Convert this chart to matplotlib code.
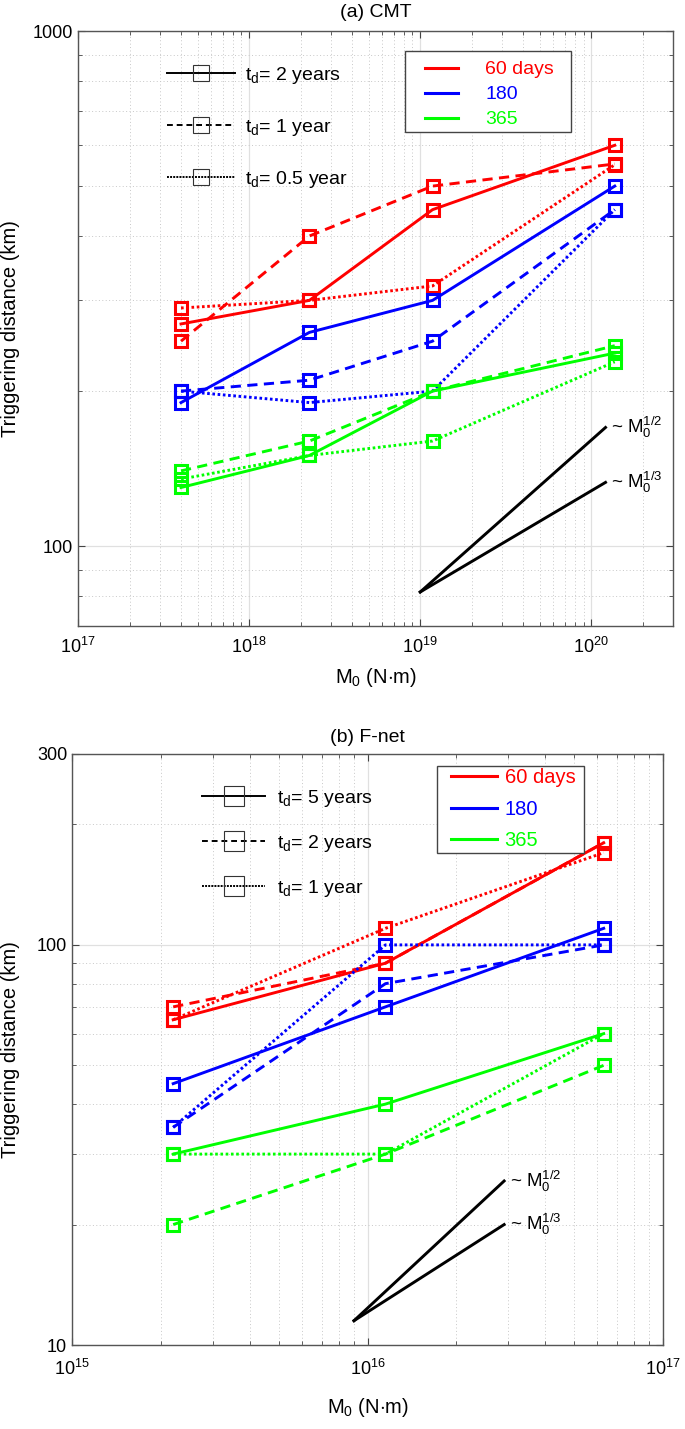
import matplotlib
matplotlib.use("Agg")
import matplotlib.pyplot as plt
from matplotlib.lines import Line2D
from matplotlib.patches import Rectangle
from matplotlib.ticker import FixedLocator, FixedFormatter, NullFormatter, LogLocator

# (a) CMT: seismic moment of each magnitude bin and triggering distance (km)
cmt_m0 = [4.0e17, 2.25e18, 1.18e19, 1.37e20]
cmt_red_2yr = [270, 300, 450, 600]
cmt_red_1yr = [250, 400, 500, 552]
cmt_red_05yr = [290, 300, 320, 550]
cmt_blue_2yr = [190, 260, 300, 500]
cmt_blue_1yr = [200, 210, 250, 450]
cmt_blue_05yr = [200, 190, 200, 450]
cmt_green_2yr = [130, 150, 200, 237]
cmt_green_1yr = [140, 160, 200, 245]
cmt_green_05yr = [135, 150, 160, 228]
cmt_ref_m0 = [1.0e19, 1.21e20]
cmt_ref_half = [81.5, 170]
cmt_ref_third = [81.5, 133]

# (b) F-net
fnet_m0 = [2.2e15, 1.15e16, 6.3e16]
fnet_red_5yr = [65, 90, 180]
fnet_red_2yr = [70, 90, 180]
fnet_red_1yr = [65, 110, 170]
fnet_blue_5yr = [45, 70, 110]
fnet_blue_2yr = [35, 80, 100]
fnet_blue_1yr = [35, 100, 100]
fnet_green_5yr = [30, 40, 60]
fnet_green_2yr = [20, 30, 50]
fnet_green_1yr = [30, 30, 60]
fnet_ref_m0 = [9.0e15, 2.9e16]
fnet_ref_half = [11.5, 25.7]
fnet_ref_third = [11.5, 20]

window_labels = ["60 days", "180", "365"]
colors = ["#ff0000", "#0000ff", "#00ff00"]

plt.rcParams["font.family"] = ["Liberation Sans", "DejaVu Sans"]
plt.rcParams["mathtext.fontset"] = "custom"
plt.rcParams["mathtext.rm"] = "Liberation Sans"
plt.rcParams["mathtext.it"] = "Liberation Sans"
plt.rcParams["mathtext.sf"] = "Liberation Sans"

DASHED = (0, (3.5, 2.2))
DOTTED = (0, (0.9, 0.9))


def style_axes(ax, xlim, ylim, yticks, tick_pad):
    ax.set_xscale("log")
    ax.set_yscale("log")
    ax.set_xlim(*xlim)
    ax.set_ylim(*ylim)
    ax.yaxis.set_major_locator(FixedLocator(yticks))
    ax.yaxis.set_major_formatter(FixedFormatter([str(v) for v in yticks]))
    ax.yaxis.set_minor_locator(LogLocator(base=10, subs=range(2, 10)))
    ax.yaxis.set_minor_formatter(NullFormatter())
    ax.xaxis.set_minor_formatter(NullFormatter())
    ax.grid(True, which="major", color="#e0e0e0", lw=0.9, ls="-")
    ax.grid(True, which="minor", color="#c8c8c8", lw=0.7, ls=(0, (1, 2.5)))
    ax.set_axisbelow(True)
    ax.tick_params(which="both", direction="in", top=True, right=True,
                   colors="#444444", labelcolor="black", labelsize=13)
    ax.tick_params(axis="x", which="major", pad=tick_pad)
    ax.tick_params(which="major", length=5, width=0.8)
    ax.tick_params(which="minor", length=3, width=0.6)
    for sp in ax.spines.values():
        sp.set_color("#555555")
        sp.set_linewidth(1.0)


def plot_series(ax, x, series):
    for ys, color, ls in series:
        ax.plot(x, ys, color=color, ls=ls, lw=2.1, marker="s", ms=9,
                mfc="none", mec=color, mew=2.2)


def add_legends(ax, style_labels, style_anchor, style_len, style_pad, style_spacing,
                msize, box, color_anchor, color_len, color_pad, color_spacing,
                color_size):
    style_handles = [Line2D([], [], color="black", ls=ls, lw=1.4, marker="s",
                            ms=msize, mfc="none", mec="#333333", mew=0.8)
                     for ls in ["-", (0, (3, 2)), (0, (1, 0.6))]]
    leg1 = ax.legend(style_handles, style_labels, loc="upper left",
                     bbox_to_anchor=style_anchor, frameon=False, fontsize=14,
                     handlelength=style_len, handletextpad=style_pad,
                     labelspacing=style_spacing, borderpad=0, borderaxespad=0,
                     numpoints=1)
    ax.add_artist(leg1)
    # frame of the colour legend
    x0, x1, y0, y1 = box
    ax.add_patch(Rectangle((x0, y0), x1 - x0, y1 - y0, transform=ax.transAxes,
                           facecolor="white", edgecolor="#444444", lw=1.0,
                           zorder=4))
    color_handles = [Line2D([], [], color=c, lw=2.2) for c in colors]
    leg2 = ax.legend(color_handles, window_labels, loc="upper left",
                     bbox_to_anchor=color_anchor, fontsize=color_size,
                     handlelength=color_len, handletextpad=color_pad,
                     labelspacing=color_spacing, labelcolor=colors,
                     frameon=False, borderpad=0, borderaxespad=0)
    leg2.set_zorder(5)


def add_ref_lines(ax, xs, half, third):
    ax.plot(xs, half, color="black", lw=2.1)
    ax.plot(xs, third, color="black", lw=2.1)
    ax.annotate(r"~ M$_0^{1/2}$", (xs[1], half[1]), xytext=(4, 0),
                textcoords="offset points", ha="left", va="center", fontsize=13.5)
    ax.annotate(r"~ M$_0^{1/3}$", (xs[1], third[1]), xytext=(4, 0),
                textcoords="offset points", ha="left", va="center", fontsize=13.5)


fig = plt.figure(figsize=(6.85, 14.29), dpi=100)
W, H = 685, 1429
ax_a = fig.add_axes([78 / W, 1 - 626 / H, 595 / W, 595 / H])
ax_b = fig.add_axes([72 / W, 1 - 1345 / H, 591 / W, 591 / H])

# ---- (a) CMT
style_axes(ax_a, (1e17, 3e20), (70, 1000), [100, 1000], 8)
plot_series(ax_a, cmt_m0, [
    (cmt_red_2yr, colors[0], "-"), (cmt_red_1yr, colors[0], DASHED),
    (cmt_red_05yr, colors[0], DOTTED),
    (cmt_blue_2yr, colors[1], "-"), (cmt_blue_1yr, colors[1], DASHED),
    (cmt_blue_05yr, colors[1], DOTTED),
    (cmt_green_2yr, colors[2], "-"), (cmt_green_1yr, colors[2], DASHED),
    (cmt_green_05yr, colors[2], DOTTED),
])
add_ref_lines(ax_a, cmt_ref_m0, cmt_ref_half, cmt_ref_third)
add_legends(ax_a, [r"t$_\mathrm{d}$= 2 years", r"t$_\mathrm{d}$= 1 year",
                   r"t$_\mathrm{d}$= 0.5 year"],
            (0.15, 0.943), 3.5, 0.5, 1.6, 11,
            (0.55, 0.829, 0.830, 0.966),
            (0.583, 0.95), 1.7, 1.4, 0.38, 14)
ax_a.set_title("(a) CMT", fontsize=14, pad=10)
ax_a.set_xlabel(r"M$_0$ (N$\cdot$m)", fontsize=14.5, labelpad=6)
ax_a.set_ylabel("Triggering distance (km)", fontsize=14.5)
ax_a.yaxis.set_label_coords(-0.098, 0.5)

# ---- (b) F-net
style_axes(ax_b, (1e15, 1e17), (10, 300), [10, 100, 300], 10)
plot_series(ax_b, fnet_m0, [
    (fnet_red_5yr, colors[0], "-"), (fnet_red_2yr, colors[0], DASHED),
    (fnet_red_1yr, colors[0], DOTTED),
    (fnet_blue_5yr, colors[1], "-"), (fnet_blue_2yr, colors[1], DASHED),
    (fnet_blue_1yr, colors[1], DOTTED),
    (fnet_green_5yr, colors[2], "-"), (fnet_green_2yr, colors[2], DASHED),
    (fnet_green_1yr, colors[2], DOTTED),
])
add_ref_lines(ax_b, fnet_ref_m0, fnet_ref_half, fnet_ref_third)
add_legends(ax_b, [r"t$_\mathrm{d}$= 5 years", r"t$_\mathrm{d}$= 2 years",
                   r"t$_\mathrm{d}$= 1 year"],
            (0.22, 0.942), 3.25, 0.6, 1.23, 14,
            (0.618, 0.866, 0.832, 0.98),
            (0.641, 0.976), 2.27, 0.4, 0.62, 14.5)
ax_b.set_title("(b) F-net", fontsize=14, pad=9)
ax_b.set_xlabel(r"M$_0$ (N$\cdot$m)", fontsize=14.5, labelpad=12)
ax_b.set_ylabel("Triggering distance (km)", fontsize=14.5)
ax_b.yaxis.set_label_coords(-0.088, 0.5)

fig.savefig("out.png", dpi=100)
